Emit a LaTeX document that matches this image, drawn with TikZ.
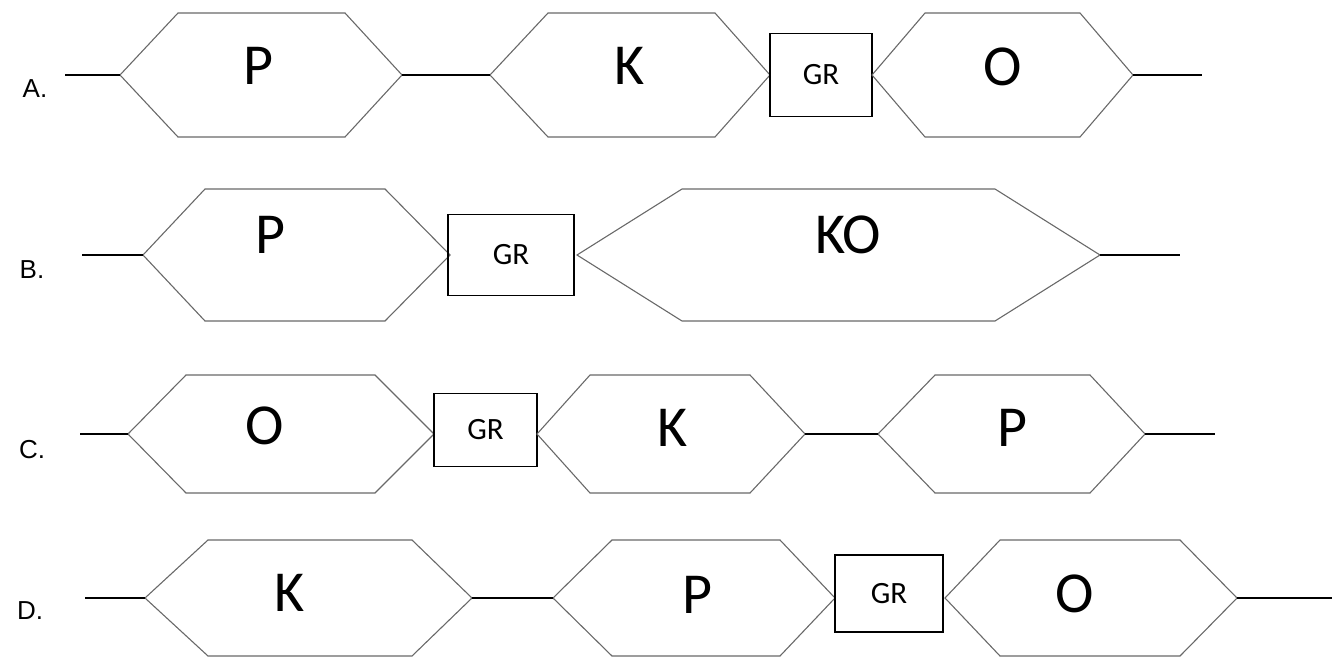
\documentclass[tikz,border=0pt]{standalone}
\usepackage{fontspec}
\setmainfont{Carlito}
\newfontfamily\labfont{Liberation Sans}
\definecolor{hexgray}{RGB}{105,105,105}
\tikzset{
  hexline/.style={draw=hexgray,line width=1.1pt,line join=miter},
  wire/.style={line width=1.1pt},
  thickwire/.style={line width=2pt},
  grbox/.style={draw,line width=1.6pt,inner sep=0pt,font=\fontsize{31}{31}\selectfont},
  gene/.style={inner sep=0pt,font=\fontsize{58}{58}\selectfont},
  rowlab/.style={inner sep=0pt,font=\labfont\fontsize{26}{26}\selectfont}
}
% hexagon: name, left x, top-left x, top-right x, right x, centre y, half height
\newcommand{\hexgene}[7]{%
  \coordinate (#1-l) at (#2,#6);
  \coordinate (#1-r) at (#5,#6);
  \draw[hexline] (#1-l) -- (#3,#6-#7) -- (#4,#6-#7) -- (#1-r) -- (#4,#6+#7) -- (#3,#6+#7) -- cycle;
}
\begin{document}
\begin{tikzpicture}[x=1pt,y=-1pt]
\useasboundingbox (0,0) rectangle (1335,659);
% row A
\node[rowlab] (labA) at (35,89) {A.};
\coordinate (a0) at (65,75);
\hexgene{aP}{120}{178}{345}{402}{75}{62}
\hexgene{aK}{490}{548}{715}{770}{75}{62}
\node[grbox,minimum width=102pt,minimum height=83pt] (aGR) at (821,75) {GR};
\hexgene{aO}{872}{925}{1080}{1133}{75}{62}
\coordinate (a1) at (1202,75);
\node[gene] (aPt) at (258,66) {P};
\node[gene] (aKt) at (630,66) {K};
\node[gene] (aOt) at (1003,67) {O};
\draw[wire] (a0) -- (aP-l);
\draw[wire] (aP-r) -- (aK-l);
\draw[wire] (aO-r) -- (a1);
% row B
\node[rowlab] (labB) at (32,270) {B.};
\coordinate (b0) at (82,255);
\hexgene{bP}{143}{205}{385}{450}{255}{66}
\node[grbox,minimum width=126pt,minimum height=81pt] (bGR) at (511,255) {GR};
\hexgene{bKO}{577}{682}{995}{1100}{255}{66}
\coordinate (b1) at (1180,255);
\node[gene] (bPt) at (270,235) {P};
\node[gene] (bKOt) at (848,235) {KO};
\draw[thickwire] (b0) -- (bP-l);
\draw[thickwire] (bKO-r) -- (b1);
% row C
\node[rowlab] (labC) at (32,450) {C.};
\coordinate (c0) at (80,434);
\hexgene{cO}{128}{186}{375}{434}{434}{59}
\node[grbox,minimum width=103pt,minimum height=73pt] (cGR) at (485.5,430) {GR};
\hexgene{cK}{537}{590}{750}{805}{434}{59}
\hexgene{cP}{878}{935}{1090}{1145}{434}{59}
\coordinate (c1) at (1215,434);
\node[gene] (cOt) at (265,426) {O};
\node[gene] (cKt) at (673,428) {K};
\node[gene] (cPt) at (1012,428) {P};
\draw[wire] (c0) -- (cO-l);
\draw[wire] (cK-r) -- (cP-l);
\draw[wire] (cP-r) -- (c1);
% row D
\node[rowlab] (labD) at (30,611) {D.};
\coordinate (d0) at (85,598);
\hexgene{dK}{145}{208}{412}{472}{598}{58}
\hexgene{dP}{553}{612}{780}{835}{598}{58}
\node[grbox,minimum width=108pt,minimum height=77pt] (dGR) at (889,593.5) {GR};
\hexgene{dO}{945}{1000}{1180}{1237}{598}{58}
\coordinate (d1) at (1332,598);
\node[gene] (dKt) at (290,593) {K};
\node[gene] (dPt) at (697,595) {P};
\node[gene] (dOt) at (1075,594) {O};
\draw[thickwire] (d0) -- (dK-l);
\draw[thickwire] (dK-r) -- (dP-l);
\draw[thickwire] (dO-r) -- (d1);
\end{tikzpicture}
\end{document}
